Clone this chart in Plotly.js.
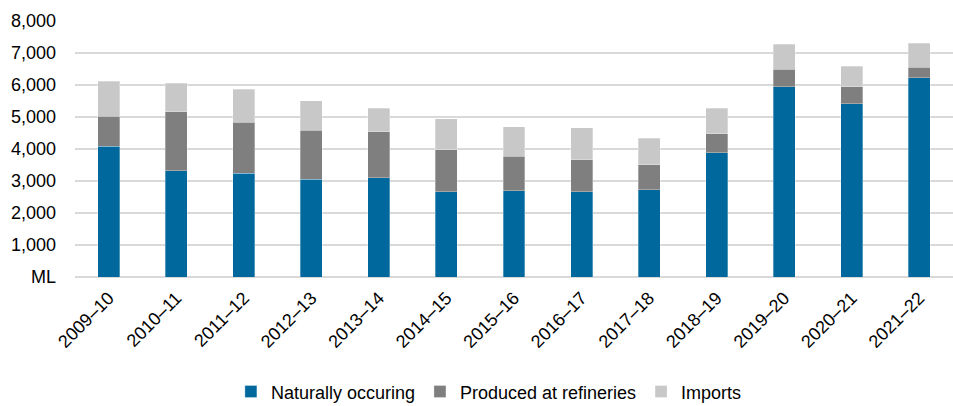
<!DOCTYPE html>
<html>
<head>
<meta charset="utf-8">
<script src="https://cdn.plot.ly/plotly-3.0.1.min.js"></script>
<style>html,body{margin:0;padding:0;background:#fff;}#chart{width:953px;height:406px;}</style>
</head>
<body>
<div id="chart"></div>
<script>
const years = ["2009–10","2010–11","2011–12","2012–13","2013–14","2014–15","2015–16","2016–17","2017–18","2018–19","2019–20","2020–21","2021–22"];
const naturallyOccuring = [4080,3320,3240,3050,3100,2670,2700,2670,2720,3880,5950,5420,6230];
const producedAtRefineries = [950,1840,1590,1530,1440,1300,1080,990,790,590,550,520,320];
const imports = [1095,890,1045,930,740,970,920,1010,830,810,780,650,760];
const yTickVals = [0,1000,2000,3000,4000,5000,6000,7000,8000];
const yTickText = ["ML","1,000","2,000","3,000","4,000","5,000","6,000","7,000","8,000"];

const font = {family: "Liberation Sans, Arial, sans-serif", size: 18, color: "#000"};
const lineStyle = {color: "rgba(255,255,255,0.6)", width: 0.5};
const traces = [
  {type: "bar", name: "Naturally occuring", x: years, y: naturallyOccuring, marker: {color: "#00689c", line: lineStyle}},
  {type: "bar", name: "Produced at refineries", x: years, y: producedAtRefineries, marker: {color: "#7f7f7f", line: lineStyle}},
  {type: "bar", name: "Imports", x: years, y: imports, marker: {color: "#c8c8c8", line: lineStyle}}
];
const layout = {
  width: 953, height: 406,
  barmode: "stack", bargap: 0.675,
  margin: {l: 75, r: 0, t: 21, b: 129},
  paper_bgcolor: "#fff", plot_bgcolor: "#fff",
  font: font,
  showlegend: true,
  legend: {orientation: "h", x: 0.513, xref: "container", xanchor: "center", y: 0.035, yref: "container", yanchor: "middle", font: font, traceorder: "normal", itemwidth: 30},
  xaxis: {automargin: false, tickangle: -45, tickfont: font, showgrid: false, zeroline: false, showline: false, ticks: "", ticklabelstandoff: 6},
  yaxis: {automargin: false, range: [0, 8000], tickvals: yTickVals, ticktext: yTickText, tickfont: font, showgrid: true, gridcolor: "#d9d9d9", gridwidth: 1.5, zeroline: true, zerolinecolor: "#d9d9d9", zerolinewidth: 1.5, showline: false, ticks: "", ticklabelstandoff: 18}
};
Plotly.newPlot("chart", traces, layout, {displayModeBar: false, staticPlot: true});
</script>
</body>
</html>
